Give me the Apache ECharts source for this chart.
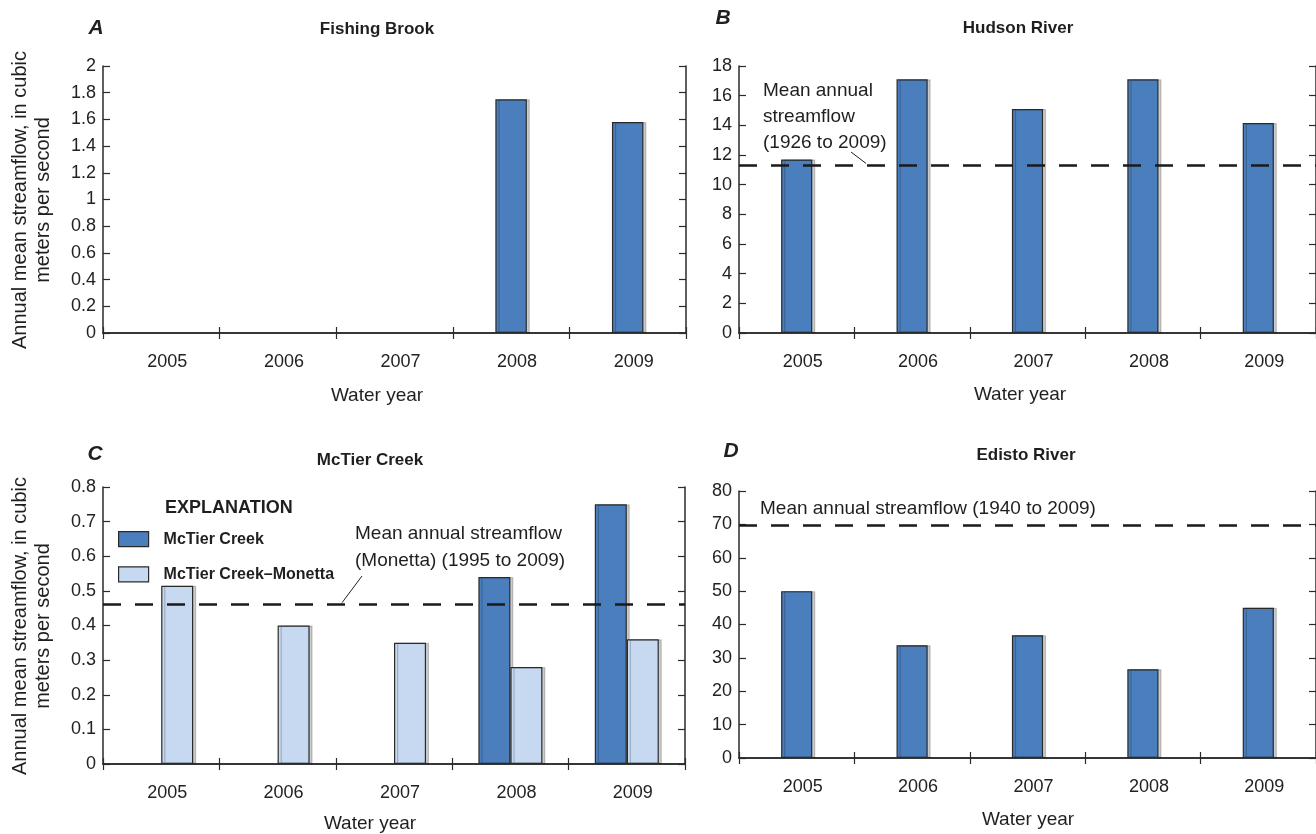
<!DOCTYPE html>
<html>
<head>
<meta charset="utf-8">
<script src="https://cdn.jsdelivr.net/npm/echarts@6/dist/echarts.min.js"></script>
<style>
  html, body { margin: 0; padding: 0; background: #fff; }
  #chart { width: 1316px; height: 834px; }
</style>
</head>
<body>
<div id="chart"></div>
<script>
// Water years shown on every panel
const years = ['2005', '2006', '2007', '2008', '2009'];

// Annual mean streamflow, cubic meters per second
const fishingBrookFlow = [null, null, null, 1.75, 1.58];
const hudsonRiverFlow = [11.7, 17.1, 15.1, 17.1, 14.15];
const mcTierCreekFlow = [null, null, null, 0.54, 0.75];
const mcTierMonettaFlow = [0.515, 0.40, 0.35, 0.28, 0.36];
const edistoRiverFlow = [50.0, 33.8, 36.8, 26.6, 45.0];

// Long-term mean annual streamflow lines
const hudsonMeanFlow = 11.3;
const monettaMeanFlow = 0.46;
const edistoMeanFlow = 69.6;

// Value-axis ticks per panel
const fishingTicks = [0, 0.2, 0.4, 0.6, 0.8, 1, 1.2, 1.4, 1.6, 1.8, 2];
const hudsonTicks = [0, 2, 4, 6, 8, 10, 12, 14, 16, 18];
const mcTierTicks = [0, 0.1, 0.2, 0.3, 0.4, 0.5, 0.6, 0.7, 0.8];
const edistoTicks = [0, 10, 20, 30, 40, 50, 60, 70, 80];

const FONT = '"Liberation Sans", Arial, sans-serif';
const NARROW = '"Liberation Sans Narrow", "Liberation Sans", Arial, sans-serif';
const INK = '#2a2a2a';
const DARK_BLUE = '#4a7ebd';
const LIGHT_BLUE = '#c6d9f0';

const grids = [
  { left: 103, right: 630, top: 66, bottom: 501 },
  { left: 739, right: -9, top: 66, bottom: 501 },
  { left: 103, right: 631, top: 487, bottom: 70 },
  { left: 739, right: -9, top: 491, bottom: 76 }
];
const panelTicks = [fishingTicks, hudsonTicks, mcTierTicks, edistoTicks];

const xAxes = [];
const yAxes = [];
grids.forEach((g, i) => {
  const ticks = panelTicks[i];
  const lineStyle = { color: INK, width: 1.5 };
  ['bottom', 'top'].forEach(pos => {
    xAxes.push({
      type: 'category', gridIndex: i, data: years, position: pos,
      axisLine: { show: true, lineStyle },
      axisTick: { show: true, inside: true, length: 6, lineStyle: { color: INK, width: 1.2 } },
      axisLabel: {
        show: pos === 'bottom', color: '#222', fontSize: 18, fontFamily: NARROW,
        margin: 20, padding: [0, 0, 0, 12]
      },
      splitLine: { show: false }
    });
  });
  ['left', 'right'].forEach(pos => {
    yAxes.push({
      type: 'value', gridIndex: i, position: pos,
      min: ticks[0], max: ticks[ticks.length - 1], interval: ticks[1] - ticks[0],
      axisLine: { show: true, lineStyle },
      axisTick: { show: true, inside: true, length: 7, lineStyle: { color: INK, width: 1.2 } },
      axisLabel: { show: pos === 'left', color: '#222', fontSize: 18, fontFamily: NARROW, margin: 7 },
      splitLine: { show: false }
    });
  });
});

const barStyle = (color) => ({
  color,
  borderColor: INK,
  borderWidth: 1.2,
  shadowColor: 'rgba(0,0,0,0.2)',
  shadowOffsetX: 3,
  shadowOffsetY: 0,
  shadowBlur: 0
});

const meanLine = (value) => ({
  silent: true,
  symbol: 'none',
  label: { show: false },
  lineStyle: { type: [18, 14], width: 2.6, color: '#1a1a1a' },
  data: [{ yAxis: value }]
});

const series = [
  { name: 'Fishing Brook', type: 'bar', xAxisIndex: 0, yAxisIndex: 0, data: fishingBrookFlow,
    barWidth: '27%', itemStyle: barStyle(DARK_BLUE) },
  { name: 'Hudson River', type: 'bar', xAxisIndex: 2, yAxisIndex: 2, data: hudsonRiverFlow,
    barWidth: '27%', itemStyle: barStyle(DARK_BLUE), markLine: meanLine(hudsonMeanFlow) },
  { name: 'McTier Creek', type: 'bar', xAxisIndex: 4, yAxisIndex: 4, data: mcTierCreekFlow,
    barWidth: '27.5%', barGap: '0%', itemStyle: barStyle(DARK_BLUE), markLine: meanLine(monettaMeanFlow) },
  { name: 'McTier Creek\u2013Monetta', type: 'bar', xAxisIndex: 4, yAxisIndex: 4, data: mcTierMonettaFlow,
    barWidth: '27.5%', barGap: '0%', itemStyle: barStyle(LIGHT_BLUE) },
  { name: 'Edisto River', type: 'bar', xAxisIndex: 6, yAxisIndex: 6, data: edistoRiverFlow,
    barWidth: '27%', itemStyle: barStyle(DARK_BLUE), markLine: meanLine(edistoMeanFlow) }
];

const txt = (text, x, y, opts) => Object.assign({
  type: 'text', x, y, silent: true,
  style: Object.assign({
    text, fill: '#1f1f1f', fontFamily: FONT, fontSize: 19,
    textAlign: 'center', textVerticalAlign: 'middle'
  }, opts || {})
});

const yName = 'Annual mean streamflow, in cubic\nmeters per second';

const graphics = [
  // panel letters
  txt('A', 96, 28, { fontSize: 21, fontWeight: 'bold', fontStyle: 'italic' }),
  txt('B', 723, 18, { fontSize: 21, fontWeight: 'bold', fontStyle: 'italic' }),
  txt('C', 95, 454, { fontSize: 21, fontWeight: 'bold', fontStyle: 'italic' }),
  txt('D', 731, 451, { fontSize: 21, fontWeight: 'bold', fontStyle: 'italic' }),
  // panel titles
  txt('Fishing Brook', 377, 29, { fontSize: 17, fontWeight: 'bold' }),
  txt('Hudson River', 1018, 28, { fontSize: 17, fontWeight: 'bold' }),
  txt('McTier Creek', 370, 460, { fontSize: 17, fontWeight: 'bold' }),
  txt('Edisto River', 1026, 455, { fontSize: 17, fontWeight: 'bold' }),
  // x-axis names
  txt('Water year', 377, 396),
  txt('Water year', 1020, 395),
  txt('Water year', 370, 824),
  txt('Water year', 1028, 820),
  // y-axis names
  Object.assign(txt(yName, 32, 200, { fontSize: 20, lineHeight: 23 }), { rotation: Math.PI / 2 }),
  Object.assign(txt(yName, 32, 626, { fontSize: 20, lineHeight: 23 }), { rotation: Math.PI / 2 }),
  // legend heading
  txt('EXPLANATION', 165, 508, { fontSize: 18, fontWeight: 'bold', textAlign: 'left' }),
  // mean-flow annotations
  txt('Mean annual\nstreamflow\n(1926 to 2009)', 763, 78, { textAlign: 'left', textVerticalAlign: 'top', lineHeight: 26 }),
  txt('Mean annual streamflow\n(Monetta) (1995 to 2009)', 355, 520, { textAlign: 'left', textVerticalAlign: 'top', lineHeight: 27 }),
  txt('Mean annual streamflow (1940 to 2009)', 760, 509, { textAlign: 'left' })
];

const chart = echarts.init(document.getElementById('chart'), null, { renderer: 'canvas' });

const option = {
  backgroundColor: '#ffffff',
  animation: false,
  grid: grids,
  xAxis: xAxes,
  yAxis: yAxes,
  legend: {
    data: ['McTier Creek', 'McTier Creek\u2013Monetta'],
    orient: 'vertical',
    left: 113, top: 526,
    itemWidth: 30, itemHeight: 15, itemGap: 19,
    icon: 'rect',
    selectedMode: false,
    itemStyle: { borderColor: INK, borderWidth: 1.2, shadowColor: 'rgba(0,0,0,0)', shadowOffsetX: 0 },
    textStyle: { fontFamily: FONT, fontSize: 16, fontWeight: 'bold', color: '#1f1f1f', padding: [0, 0, 0, 10] }
  },
  series,
  graphic: graphics
};
chart.setOption(option);

// Leader lines from the annotations down to the mean-flow lines
const hudsonY = chart.convertToPixel({ yAxisIndex: 2 }, hudsonMeanFlow);
const monettaY = chart.convertToPixel({ yAxisIndex: 4 }, monettaMeanFlow);
const leader = (x1, y1, x2, y2) => ({
  type: 'line', silent: true,
  shape: { x1, y1, x2, y2 },
  style: { stroke: '#1f1f1f', lineWidth: 1 }
});
chart.setOption({
  graphic: graphics.concat([
    leader(851, 152, 866, hudsonY - 2),
    leader(362, 576, 342, monettaY - 2)
  ])
});
</script>
</body>
</html>
